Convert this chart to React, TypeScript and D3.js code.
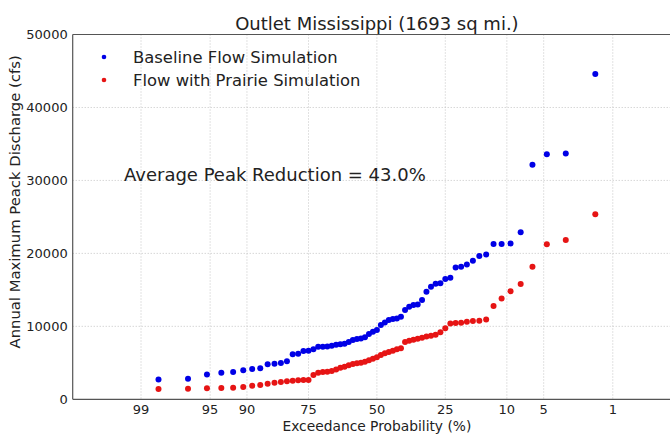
import React from "react";
import * as d3 from "d3";

// Annual peak discharges (cfs), sorted ascending (rank 1 = smallest)
const baselineFlow = [
  2700, 2800, 3400, 3650, 3750, 3970, 4150, 4250, 4790, 4880,
  4970, 5200, 6160, 6250, 6620, 6660, 6850, 7200, 7210, 7220,
  7350, 7480, 7530, 7620, 7850, 8120, 8260, 8350, 8490, 8950,
  9260, 9490, 10180, 10540, 10860, 11000, 11090, 11320, 12230, 12690,
  12920, 13010, 13600, 14740, 15430, 15850, 15900, 16480, 16660, 18080,
  18170, 18490, 18990, 19630, 19860, 21270, 21280, 21360, 22900, 32140,
  33600, 33700, 44600,
];
const prairieFlow = [
  1415, 1460, 1510, 1550, 1600, 1690, 1870, 1960, 2140, 2280,
  2370, 2460, 2550, 2600, 2640, 2650, 3330, 3650, 3740, 3790,
  3880, 4100, 4330, 4470, 4650, 4840, 4930, 5020, 5160, 5340,
  5570, 5780, 6070, 6300, 6480, 6650, 6850, 6980, 7850, 8030,
  8150, 8300, 8450, 8600, 8720, 8850, 9200, 9750, 10380, 10450,
  10500, 10640, 10730, 10760, 10950, 12800, 13830, 14800, 15820, 18170,
  21250, 21820, 25380,
];
const probTicks = [99, 95, 90, 75, 50, 25, 10, 5, 1];
const yTicks = [0, 10000, 20000, 30000, 40000, 50000];
const seriesNames = ["Baseline Flow Simulation", "Flow with Prairie Simulation"];
const titleText = "Outlet Mississippi (1693 sq mi.)";
const annotation = "Average Peak Reduction = 43.0%";

// inverse standard normal CDF (Acklam)
function normInv(p: number): number {
  const a = [-3.969683028665376e1, 2.209460984245205e2, -2.759285104469687e2, 1.38357751867269e2, -3.066479806614716e1, 2.506628277459239];
  const b = [-5.447609879822406e1, 1.615858368580409e2, -1.556989798598866e2, 6.680131188771972e1, -1.328068155288572e1];
  const c = [-7.784894002430293e-3, -3.223964580411365e-1, -2.400758277161838, -2.549732539343734, 4.374664141464968, 2.938163982698783];
  const dd = [7.784695709041462e-3, 3.224671290700398e-1, 2.445134137142996, 3.754408661907416];
  const pl = 0.02425;
  let q: number, r: number;
  if (p < pl) {
    q = Math.sqrt(-2 * Math.log(p));
    return (((((c[0] * q + c[1]) * q + c[2]) * q + c[3]) * q + c[4]) * q + c[5]) / ((((dd[0] * q + dd[1]) * q + dd[2]) * q + dd[3]) * q + 1);
  }
  if (p <= 1 - pl) {
    q = p - 0.5;
    r = q * q;
    return ((((((a[0] * r + a[1]) * r + a[2]) * r + a[3]) * r + a[4]) * r + a[5]) * q) / (((((b[0] * r + b[1]) * r + b[2]) * r + b[3]) * r + b[4]) * r + 1);
  }
  q = Math.sqrt(-2 * Math.log(1 - p));
  return -(((((c[0] * q + c[1]) * q + c[2]) * q + c[3]) * q + c[4]) * q + c[5]) / ((((dd[0] * q + dd[1]) * q + dd[2]) * q + dd[3]) * q + 1);
}

const W = 670, H = 435;
const left = 72.7, right = 681.1, top = 34.5, bottom = 399.3;
const font = "DejaVu Sans, Bitstream Vera Sans, sans-serif";

export default function App() {
  const x = d3.scaleLinear().domain([-3, 3]).range([left, right]);
  const y = d3.scaleLinear().domain([0, 50000]).range([bottom, top]);
  // exceedance percent -> position
  const xp = (pct: number) => x(normInv(1 - pct / 100));
  // Weibull plotting position for ascending rank
  const xr = (i: number, n: number) => x(normInv((i + 1) / (n + 1)));

  const gridColor = "#c4c4c4";
  const textColor = "#222";
  const blue = "#0000e6";
  const red = "#e61414";

  return (
    <svg width={W} height={H} style={{ position: "absolute", left: 0, top: 0, background: "#fff" }} fontFamily={font}>
      <rect x={0} y={0} width={W} height={H} fill="#fff" />
      {/* grid */}
      {yTicks.slice(1, -1).map((t) => (
        <line key={"gy" + t} x1={left} x2={W} y1={y(t)} y2={y(t)} stroke={gridColor} strokeDasharray="1,2" />
      ))}
      {probTicks.map((t) => (
        <line key={"gx" + t} x1={xp(t)} x2={xp(t)} y1={top} y2={bottom} stroke={gridColor} strokeDasharray="1,2" />
      ))}
      {/* axes frame */}
      <line x1={left} x2={W} y1={top} y2={top} stroke="#555" strokeWidth={1.2} />
      <line x1={left} x2={W} y1={bottom} y2={bottom} stroke="#555" strokeWidth={1.2} />
      <line x1={left} x2={left} y1={top} y2={bottom} stroke="#555" strokeWidth={1.2} />
      {/* y tick labels */}
      {yTicks.map((t) => (
        <text key={"ty" + t} x={left - 5} y={y(t)} dy="0.36em" textAnchor="end" fontSize={13} fill={textColor}>
          {t}
        </text>
      ))}
      {/* x tick labels */}
      {probTicks.map((t) => (
        <text key={"tx" + t} x={xp(t)} y={414} textAnchor="middle" fontSize={13} fill={textColor}>
          {t}
        </text>
      ))}
      {/* points */}
      {baselineFlow.map((v, i) => (
        <circle key={"b" + i} cx={xr(i, baselineFlow.length)} cy={y(v)} r={3} fill={blue} />
      ))}
      {prairieFlow.map((v, i) => (
        <circle key={"p" + i} cx={xr(i, prairieFlow.length)} cy={y(v)} r={3} fill={red} />
      ))}
      {/* title & labels */}
      <text x={(left + right) / 2} y={30} textAnchor="middle" fontSize={18} fill={textColor}>
        {titleText}
      </text>
      <text x={(left + right) / 2} y={431} textAnchor="middle" fontSize={13.8} fill={textColor}>
        Exceedance Probability (%)
      </text>
      <text transform={`translate(20,${(top + bottom) / 2 - 15}) rotate(-90)`} textAnchor="middle" fontSize={14.8} fill={textColor}>
        Annual Maximum Peack Discharge (cfs)
      </text>
      {/* legend */}
      <circle cx={104} cy={57} r={2.3} fill={blue} />
      <circle cx={104} cy={80} r={2.3} fill={red} />
      <text x={133} y={63} fontSize={16.4} fill={textColor}>{seriesNames[0]}</text>
      <text x={133} y={86} fontSize={16.4} fill={textColor}>{seriesNames[1]}</text>
      {/* annotation */}
      <text x={124} y={181} fontSize={18} fill={textColor}>{annotation}</text>
    </svg>
  );
}
